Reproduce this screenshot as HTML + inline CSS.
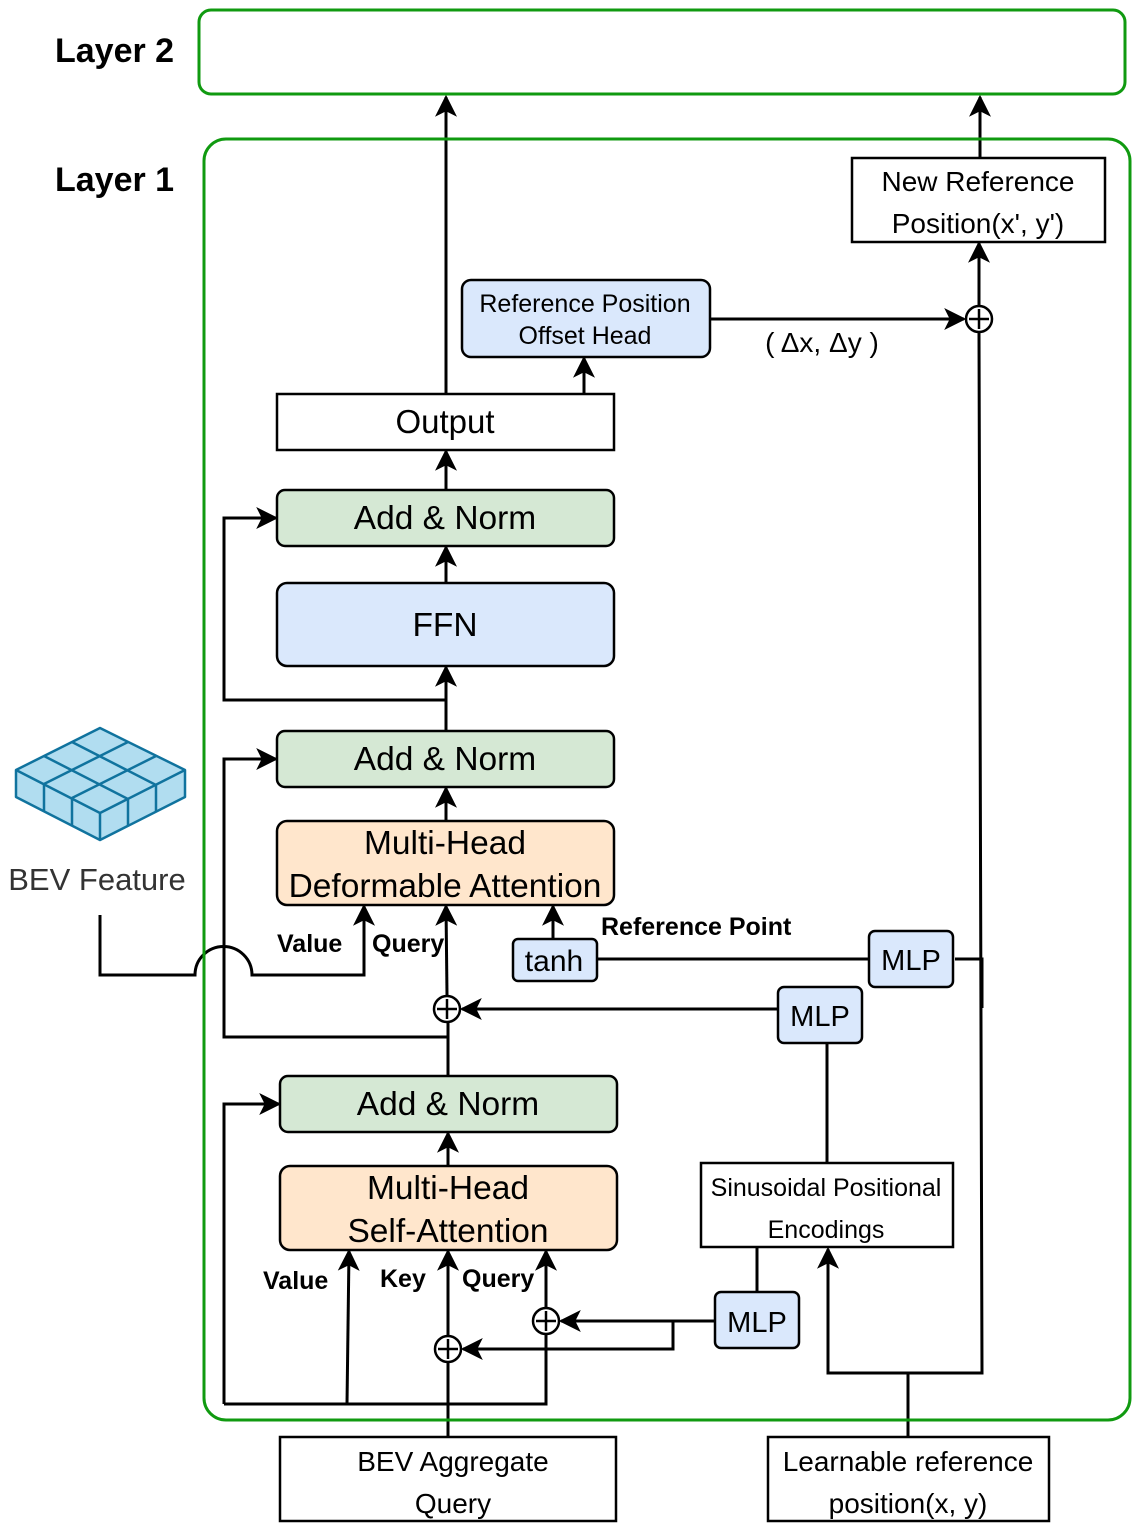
<!DOCTYPE html>
<html><head><meta charset="utf-8"><style>
html,body{margin:0;padding:0;background:#fff}
svg{display:block;font-family:"Liberation Sans",Arial,sans-serif}
</style></head><body>
<svg width="1144" height="1536" viewBox="0 0 1144 1536" xmlns="http://www.w3.org/2000/svg">
<defs>
<marker id="a" viewBox="0 0 20 20" refX="18" refY="10" markerWidth="22" markerHeight="22" markerUnits="userSpaceOnUse" orient="auto">
<path d="M0,0 L20,10 L0,20 L5,10 Z" fill="#000"/>
</marker>
</defs>
<g fill="none" stroke="#000" stroke-width="3" marker-end="url(#a)">
<path d="M446,394 V97"/>
<path d="M980,158 V97"/>
<path d="M710,319 H964"/>
<path d="M979,305 V243"/>
<path d="M584,394 V358"/>
<path d="M446,490 V451"/>
<path d="M446,583 V547"/>
<path d="M446,731 V667"/>
<path d="M446,700 H224 V518 H276"/>
<path d="M446,821 V788"/>
<path d="M448,1037 H224 V759 H276"/>
<path d="M447,995 L446,906"/>
<path d="M778,1009 H462"/>
<path d="M553,939 V906"/>
<path d="M100,915 V975 H195 A28,28 0 0 1 252,975 H364 V906"/>
<path d="M448,1166 V1133"/>
<path d="M224,1404 V1104 H279"/>
<path d="M347,1404 L349,1251"/>
<path d="M448,1335 V1251"/>
<path d="M546,1307 V1251"/>
<path d="M715,1321 H561"/>
<path d="M673,1321 V1349 H463"/>
<path d="M908,1437 V1373 H828 V1249"/>
</g>
<g fill="none" stroke="#000" stroke-width="3">
<path d="M448,1023 V1076"/>
<path d="M979,333 L982,1373 H908"/>
<path d="M955,959 H982 V1008"/>
<path d="M597,959 H869"/>
<path d="M827,1043 V1163"/>
<path d="M224,1404 H546 V1335"/>
<path d="M448,1437 V1363"/>
<path d="M757,1292 V1247"/>
</g>
<g fill="none" stroke="#109a10" stroke-width="3">
<rect x="199" y="10" width="926" height="84" rx="12"/>
<rect x="204" y="139" width="926" height="1281" rx="22"/>
</g>
<g stroke="#000" stroke-width="2.5">
<rect x="852" y="158" width="253" height="84" fill="#fff"/>
<rect x="462" y="280" width="248" height="77" rx="9" fill="#dae8fc"/>
<rect x="277" y="394" width="337" height="56" fill="#fff"/>
<rect x="277" y="490" width="337" height="56" rx="8" fill="#d5e8d4"/>
<rect x="277" y="583" width="337" height="83" rx="10" fill="#dae8fc"/>
<rect x="277" y="731" width="337" height="56" rx="8" fill="#d5e8d4"/>
<rect x="277" y="821" width="337" height="84" rx="10" fill="#ffe6cc"/>
<rect x="513" y="939" width="84" height="42" rx="5" fill="#dae8fc"/>
<rect x="869" y="931" width="84" height="56" rx="6" fill="#dae8fc"/>
<rect x="778" y="987" width="84" height="56" rx="6" fill="#dae8fc"/>
<rect x="280" y="1076" width="337" height="56" rx="8" fill="#d5e8d4"/>
<rect x="280" y="1166" width="337" height="84" rx="10" fill="#ffe6cc"/>
<rect x="701" y="1163" width="252" height="84" fill="#fff"/>
<rect x="715" y="1292" width="84" height="56" rx="6" fill="#dae8fc"/>
<rect x="280" y="1437" width="336" height="84" fill="#fff"/>
<rect x="768" y="1437" width="281" height="84" fill="#fff"/>
</g>
<g stroke="#000" stroke-width="2.5" fill="#fff">
<circle cx="979" cy="319" r="13"/>
<circle cx="447" cy="1009" r="13"/>
<circle cx="546" cy="1321" r="13"/>
<circle cx="448" cy="1349" r="13"/>
</g>
<g stroke="#000" stroke-width="2.5">
<path d="M969,319 H989 M979,309 V329"/>
<path d="M437,1009 H457 M447,999 V1019"/>
<path d="M536,1321 H556 M546,1311 V1331"/>
<path d="M438,1349 H458 M448,1339 V1359"/>
</g>
<g stroke="#10739e" stroke-width="2.5" fill="#b1ddf0" stroke-linejoin="round">
<path d="M100,728 L185,770 L185,797 L100,840 L16,797 L16,770 Z"/>
<path d="M16,770 L100,813 L185,770 M100,813 V840" fill="none"/>
<path d="M44,756 L128,799 M72,742 L156,785 M44,784 L128,742 M72,798 L156,756" fill="none"/>
<path d="M44,784 V811 M72,798 V825 M128,799 V826 M156,785 V812" fill="none"/>
</g>
<g font-size="33.5" text-anchor="middle" fill="#000">
<text x="445" y="433" font-size="33">Output</text>
<text x="445" y="529">Add &amp; Norm</text>
<text x="445" y="636">FFN</text>
<text x="445" y="770">Add &amp; Norm</text>
<text x="445" y="854">Multi-Head</text>
<text x="445" y="897">Deformable Attention</text>
<text x="448" y="1115">Add &amp; Norm</text>
<text x="448" y="1199">Multi-Head</text>
<text x="448" y="1242">Self-Attention</text>
</g>
<g font-size="28" text-anchor="middle" fill="#000">
<text x="978" y="191">New Reference</text>
<text x="978" y="233">Position(x', y')</text>
<text x="554" y="971" font-size="30">tanh</text>
<text x="911" y="970" font-size="29">MLP</text>
<text x="820" y="1026" font-size="29">MLP</text>
<text x="757" y="1332" font-size="29">MLP</text>
<text x="822" y="352">( Δx, Δy )</text>
<text x="453" y="1471">BEV Aggregate</text>
<text x="453" y="1513">Query</text>
<text x="908" y="1471">Learnable reference</text>
<text x="908" y="1513">position(x, y)</text>
<text x="97" y="890" font-size="31" fill="#333">BEV Feature</text>
</g>
<g font-size="25" text-anchor="middle" fill="#000">
<text x="585" y="312">Reference Position</text>
<text x="585" y="344">Offset Head</text>
<text x="826" y="1196">Sinusoidal Positional</text>
<text x="826" y="1238">Encodings</text>
</g>
<g font-size="25" font-weight="bold" fill="#000">
<text x="277" y="952">Value</text>
<text x="372" y="952">Query</text>
<text x="601" y="935">Reference Point</text>
<text x="263" y="1289">Value</text>
<text x="380" y="1287">Key</text>
<text x="462" y="1287">Query</text>
</g>
<g font-size="34" font-weight="bold" fill="#000">
<text x="55" y="62">Layer 2</text>
<text x="55" y="191">Layer 1</text>
</g>
</svg>
</body></html>
